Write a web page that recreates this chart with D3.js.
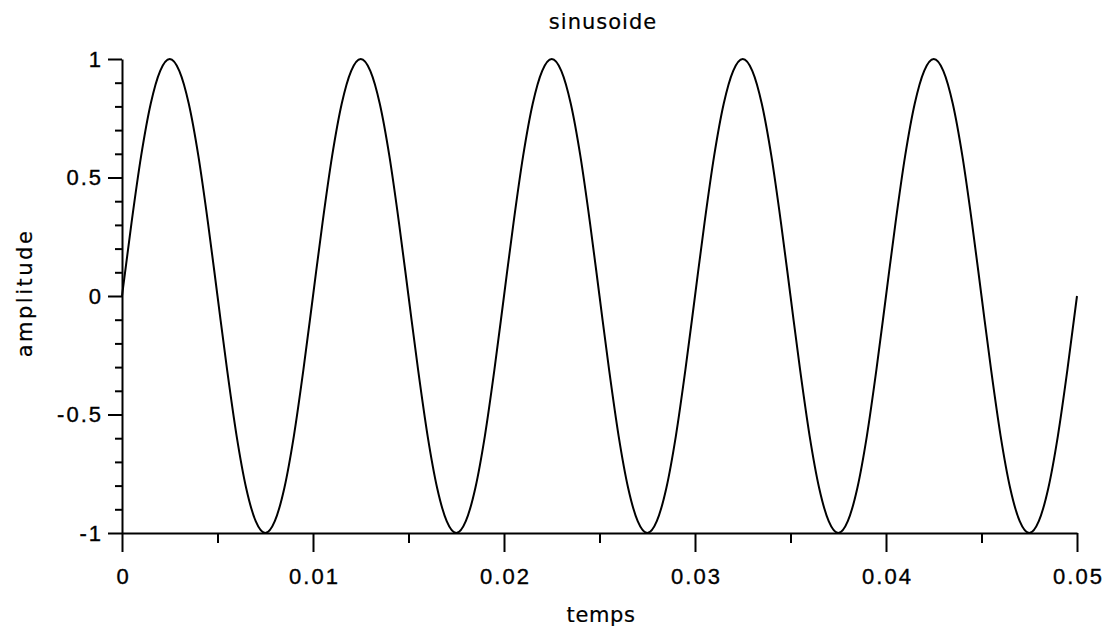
<!DOCTYPE html>
<html>
<head>
<meta charset="utf-8">
<script src="https://cdn.jsdelivr.net/npm/d3@7"></script>
<style>
  body { margin: 0; background: #fff; }
  .tick text { font-family: "Liberation Sans", Arial, sans-serif; font-size: 22px; letter-spacing: 2px; fill: #000; stroke: #000; stroke-width: 0.35px; }
  .lbl { font-family: "DejaVu Sans", sans-serif; font-size: 21px; letter-spacing: 1px; fill: #000; stroke: #000; stroke-width: 0.2px; }
</style>
</head>
<body>
<svg id="chart"></svg>
<script>
var temps = [
  0, 0.0005, 0.001, 0.0015, 0.002, 0.0025, 0.003, 0.0035, 0.004, 0.0045,
  0.005, 0.0055, 0.006, 0.0065, 0.007, 0.0075, 0.008, 0.0085, 0.009, 0.0095,
  0.01, 0.0105, 0.011, 0.0115, 0.012, 0.0125, 0.013, 0.0135, 0.014, 0.0145,
  0.015, 0.0155, 0.016, 0.0165, 0.017, 0.0175, 0.018, 0.0185, 0.019, 0.0195,
  0.02, 0.0205, 0.021, 0.0215, 0.022, 0.0225, 0.023, 0.0235, 0.024, 0.0245,
  0.025, 0.0255, 0.026, 0.0265, 0.027, 0.0275, 0.028, 0.0285, 0.029, 0.0295,
  0.03, 0.0305, 0.031, 0.0315, 0.032, 0.0325, 0.033, 0.0335, 0.034, 0.0345,
  0.035, 0.0355, 0.036, 0.0365, 0.037, 0.0375, 0.038, 0.0385, 0.039, 0.0395,
  0.04, 0.0405, 0.041, 0.0415, 0.042, 0.0425, 0.043, 0.0435, 0.044, 0.0445,
  0.045, 0.0455, 0.046, 0.0465, 0.047, 0.0475, 0.048, 0.0485, 0.049, 0.0495,
  0.05
];
var amplitude = [
  0, 0.31, 0.59, 0.81, 0.95, 1, 0.95, 0.81, 0.59, 0.31,
  0, -0.31, -0.59, -0.81, -0.95, -1, -0.95, -0.81, -0.59, -0.31,
  0, 0.31, 0.59, 0.81, 0.95, 1, 0.95, 0.81, 0.59, 0.31,
  0, -0.31, -0.59, -0.81, -0.95, -1, -0.95, -0.81, -0.59, -0.31,
  0, 0.31, 0.59, 0.81, 0.95, 1, 0.95, 0.81, 0.59, 0.31,
  0, -0.31, -0.59, -0.81, -0.95, -1, -0.95, -0.81, -0.59, -0.31,
  0, 0.31, 0.59, 0.81, 0.95, 1, 0.95, 0.81, 0.59, 0.31,
  0, -0.31, -0.59, -0.81, -0.95, -1, -0.95, -0.81, -0.59, -0.31,
  0, 0.31, 0.59, 0.81, 0.95, 1, 0.95, 0.81, 0.59, 0.31,
  0, -0.31, -0.59, -0.81, -0.95, -1, -0.95, -0.81, -0.59, -0.31,
  0
];

// ticks
var xMajor = [0, 0.01, 0.02, 0.03, 0.04, 0.05];
var xMinor = [0.005, 0.015, 0.025, 0.035, 0.045];
var yMajor = [-1, -0.5, 0, 0.5, 1];
var yMinor = [-0.9, -0.8, -0.7, -0.6, -0.4, -0.3, -0.2, -0.1, 0.1, 0.2, 0.3, 0.4, 0.6, 0.7, 0.8, 0.9];

var width = 1111;
var height = 631;
var margin = { top: 59, right: 34, bottom: 98, left: 122 };

var svg = d3.select("#chart")
  .attr("width", width)
  .attr("height", height);

var xScale = d3.scaleLinear()
  .domain([0, 0.05])
  .range([margin.left, width - margin.right]);

var yScale = d3.scaleLinear()
  .domain([-1, 1])
  .range([height - margin.bottom, margin.top]);

var data = temps.map(function (t, i) {
  return { t: t, a: amplitude[i] };
});

// minor ticks first, no labels
svg.append("g")
  .attr("transform", "translate(0," + yScale(-1) + ")")
  .call(d3.axisBottom(xScale).tickValues(xMinor).tickSize(10).tickFormat(""))
  .call(function (g) { g.select(".domain").remove(); });

svg.append("g")
  .attr("transform", "translate(" + xScale(0) + ",0)")
  .call(d3.axisLeft(yScale).tickValues(yMinor).tickSize(7).tickFormat(""))
  .call(function (g) { g.select(".domain").remove(); });

// major axes
svg.append("g")
  .attr("class", "x axis")
  .attr("transform", "translate(0," + yScale(-1) + ")")
  .call(d3.axisBottom(xScale).tickValues(xMajor).tickSize(19).tickSizeOuter(0).tickPadding(16)
    .tickFormat(function (d) { return String(+d.toFixed(2)); }));

svg.append("g")
  .attr("class", "y axis")
  .attr("transform", "translate(" + xScale(0) + ",0)")
  .call(d3.axisLeft(yScale).tickValues(yMajor).tickSize(14).tickSizeOuter(0).tickPadding(5)
    .tickFormat(function (d) { return String(d); }));

// letter-spacing leaves a gap after the last glyph, nudge centred labels back
svg.selectAll(".x.axis .tick text").attr("dx", "1");

svg.selectAll(".axis path, .axis line, g line").attr("stroke", "#000").attr("stroke-width", 2);

// the signal
var line = d3.line()
  .x(function (d) { return xScale(d.t); })
  .y(function (d) { return yScale(d.a); })
  .curve(d3.curveMonotoneX);

svg.append("path")
  .datum(data)
  .attr("fill", "none")
  .attr("stroke", "#000")
  .attr("stroke-width", 2)
  .attr("d", line);

// labels
svg.append("text")
  .attr("class", "lbl")
  .attr("text-anchor", "middle")
  .attr("x", 603)
  .attr("y", 29)
  .text("sinusoide");

svg.append("text")
  .attr("class", "lbl")
  .attr("text-anchor", "middle")
  .style("letter-spacing", "0.6px")
  .attr("x", 601)
  .attr("y", 622)
  .text("temps");

svg.append("text")
  .attr("class", "lbl")
  .attr("text-anchor", "middle")
  .style("letter-spacing", "2.5px")
  .attr("transform", "translate(32,293) rotate(-90)")
  .text("amplitude");
</script>
</body>
</html>
